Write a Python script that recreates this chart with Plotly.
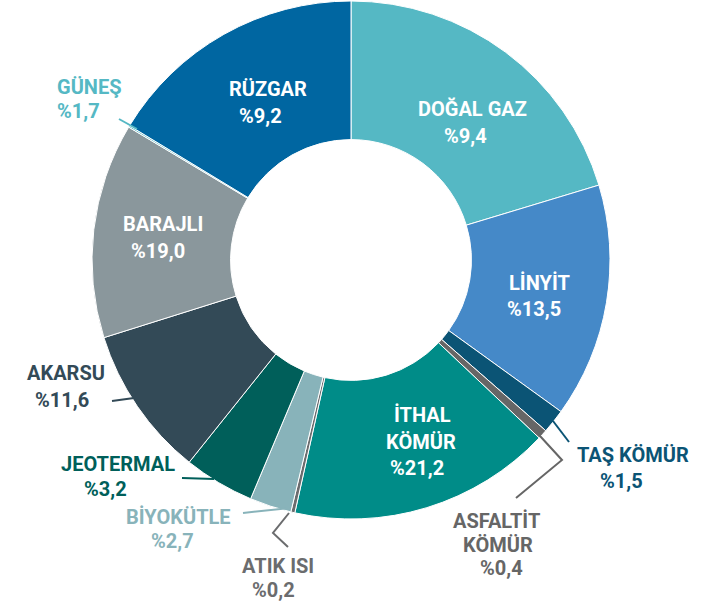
import plotly.graph_objects as go

W, H = 710, 603

# ---------------- data ----------------
categories = ["DOĞAL GAZ", "LİNYİT", "TAŞ KÖMÜR", "ASFALTİT KÖMÜR", "İTHAL KÖMÜR",
              "ATIK ISI", "BİYOKÜTLE", "JEOTERMAL", "AKARSU", "BARAJLI", "GÜNEŞ", "RÜZGAR"]
# slice sizes as drawn in the picture (share of the ring, %)
slice_shares = [20.3, 14.6, 1.5, 0.6, 16.4, 0.25, 2.6, 4.4, 9.4, 13.4, 0.1, 16.3]
# percentage labels as printed
pct_labels = ["%9,4", "%13,5", "%1,5", "%0,4", "%21,2", "%0,2", "%2,7", "%3,2",
              "%11,6", "%19,0", "%1,7", "%9,2"]

# ---------------- styles ----------------
colors = ["#55B8C4", "#4589C8", "#0B5475", "#666666", "#008C88", "#6B6C6E",
          "#88B3BA", "#005F5A", "#334A57", "#8A979C", "#55B8C4", "#0066A1"]
inside = {"DOĞAL GAZ", "LİNYİT", "İTHAL KÖMÜR", "BARAJLI", "RÜZGAR"}
name_lines = {"İTHAL KÖMÜR": ["İTHAL", "KÖMÜR"], "ASFALTİT KÖMÜR": ["ASFALTİT", "KÖMÜR"]}

# label line centres in pixels: name lines..., value line
label_pos = {
    "DOĞAL GAZ": [(472, 109), (465, 136)],
    "RÜZGAR": [(268, 89), (260, 116)],
    "LİNYİT": [(539, 283), (534, 309)],
    "İTHAL KÖMÜR": [(422, 415), (421, 442), (417, 468)],
    "BARAJLI": [(163, 224), (158, 251)],
    "GÜNEŞ": [(89, 87), (78, 111)],
    "AKARSU": [(66, 373), (62, 400)],
    "JEOTERMAL": [(118, 464), (105, 489)],
    "BİYOKÜTLE": [(178, 517), (172, 541)],
    "ATIK ISI": [(278, 566), (273, 590)],
    "TAŞ KÖMÜR": [(633, 455), (621, 481)],
    "ASFALTİT KÖMÜR": [(497, 521), (498, 545), (502, 568)],
}
# leader lines (pixels)
leaders = {
    "GÜNEŞ": [(119, 119), (137, 129)],
    "AKARSU": [(112, 401), (134, 398)],
    "JEOTERMAL": [(182, 478), (214, 479)],
    "BİYOKÜTLE": [(243, 513), (290, 508)],
    "ATIK ISI": [(289, 513), (273, 533), (288, 547)],
    "TAŞ KÖMÜR": [(553, 421), (569, 442)],
    "ASFALTİT KÖMÜR": [(540, 436), (562, 460), (516, 498)],
}

def px(x):
    return x / W

def py(y):
    return 1 - y / H

# ring geometry: centre (351,260), outer radius 259
cx, cy, R = 351, 260, 259

fig = go.Figure(go.Pie(
    labels=categories,
    values=slice_shares,
    sort=False,
    direction="clockwise",
    rotation=0,
    hole=0.465,
    marker=dict(colors=colors, line=dict(color="white", width=1)),
    textinfo="none",
    hoverinfo="label",
    showlegend=False,
    domain=dict(x=[px(cx - R), px(cx + R)], y=[py(cy + R), py(cy - R)]),
))

annotations = []
for cat, pct, col in zip(categories, pct_labels, colors):
    lines = name_lines.get(cat, [cat]) + [pct]
    tcol = "white" if cat in inside else col
    for text, (x, y) in zip(lines, label_pos[cat]):
        annotations.append(dict(
            text=text, x=px(x), y=py(y), xref="paper", yref="paper",
            xanchor="center", yanchor="middle", showarrow=False,
            font=dict(family="Roboto", size=20, color=tcol, weight="bold"),
        ))

shapes = []
for cat, pts in leaders.items():
    col = colors[categories.index(cat)]
    path = "M " + " L ".join(f"{px(x)},{py(y)}" for x, y in pts)
    shapes.append(dict(type="path", path=path, xref="paper", yref="paper",
                       line=dict(color=col, width=2)))

fig.update_layout(
    width=W, height=H,
    margin=dict(l=0, r=0, t=0, b=0),
    paper_bgcolor="white", plot_bgcolor="white",
    annotations=annotations, shapes=shapes,
)

fig.write_html("out.html",
               config={"displayModeBar": False},
               post_script="document.body.style.margin='0';document.body.style.overflow='hidden';")
